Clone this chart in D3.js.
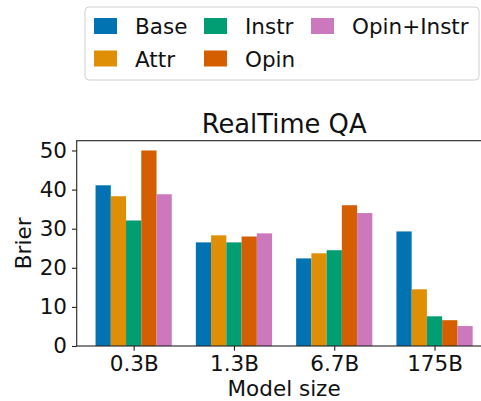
<!DOCTYPE html>
<html>
<head>
<meta charset="utf-8">
<script src="https://cdn.jsdelivr.net/npm/d3@7"></script>
<style>
  body { margin: 0; background: #fff; }
  svg { display: block; font-family: "DejaVu Sans", sans-serif; }
</style>
</head>
<body>
<svg width="481" height="401"></svg>
<script>
// data
var categories = ["0.3B", "1.3B", "6.7B", "175B"];
var seriesNames = ["Base", "Attr", "Instr", "Opin", "Opin+Instr"];
var base      = [41.1, 26.5, 22.4, 29.3];
var attr      = [38.3, 28.3, 23.7, 14.5];
var instr     = [32.1, 26.5, 24.5, 7.6];
var opin      = [50.0, 28.0, 36.0, 6.6];
var opinInstr = [38.8, 28.8, 34.0, 5.1];
var yTicks = [0, 10, 20, 30, 40, 50];
var colors = ["#0173b2", "#de8f05", "#029e73", "#d55e00", "#cc78bc"];

var allSeries = [base, attr, instr, opin, opinInstr];

var svg = d3.select("svg");
// plot box (note: "top" is taken by window.top, so prefixed names)
var plotL = 76.7, plotR = 491.5, plotT = 140.7, plotB = 346;
var barW = 0.152;

var x = d3.scaleLinear().domain([-0.568, 3.568]).range([plotL, plotR]);
var y = d3.scaleLinear().domain([0, 52.5]).range([plotB, plotT]);

// bars
allSeries.forEach(function(vals, j)
{
    svg.append("g")
        .selectAll("rect")
        .data(vals)
        .enter().append("rect")
        .attr("x", function(d, i) { return x(i + (j - 2) * barW - barW / 2); })
        .attr("width", x(barW) - x(0))
        .attr("y", function(d) { return y(d); })
        .attr("height", function(d) { return y(0) - y(d); })
        .attr("fill", colors[j]);
});

// axes
var yAxis = d3.axisLeft(y).tickValues(yTicks).tickSize(4.7).tickPadding(5);
var gy = svg.append("g").attr("transform", "translate(" + plotL + ",0)").call(yAxis);
var xAxis = d3.axisBottom(x).tickValues(d3.range(categories.length))
    .tickFormat(function(d) { return categories[d]; }).tickSize(4.7).tickPadding(5);
var gx = svg.append("g").attr("transform", "translate(0," + plotB + ")").call(xAxis);
[gx, gy].forEach(function(g)
{
    g.select(".domain").remove();
    g.selectAll("line").attr("stroke", "#222").attr("stroke-width", 1.1);
    g.selectAll("text").attr("font-size", 21.5).attr("fill", "#111")
        .attr("font-family", "DejaVu Sans");
});

// spines (right one falls outside the window)
svg.append("rect")
    .attr("x", plotL).attr("y", plotT)
    .attr("width", plotR - plotL).attr("height", plotB - plotT)
    .attr("fill", "none").attr("stroke", "#222").attr("stroke-width", 1.1);

// titles
svg.append("text")
    .attr("x", (plotL + plotR) / 2).attr("y", 133)
    .attr("text-anchor", "middle").attr("font-size", 25.8).attr("fill", "#111")
    .text("RealTime QA");
svg.append("text")
    .attr("x", (plotL + plotR) / 2).attr("y", 396)
    .attr("text-anchor", "middle").attr("font-size", 21.5).attr("fill", "#111")
    .text("Model size");
svg.append("text")
    .attr("transform", "translate(31," + ((plotT + plotB) / 2) + ") rotate(-90)")
    .attr("text-anchor", "middle").attr("font-size", 21.5).attr("fill", "#111")
    .text("Brier");

// legend, column-major, 2 rows
var legend = svg.append("g");
legend.append("rect")
    .attr("x", 85).attr("y", 7).attr("width", 394).attr("height", 73)
    .attr("rx", 4).attr("fill", "#fff").attr("stroke", "#d0d0d0").attr("stroke-width", 1);
var colX = [94, 204, 311];
var rowY = [18, 50.5];
var items = legend.selectAll("g.item")
    .data(seriesNames)
    .enter().append("g")
    .attr("class", "item")
    .attr("transform", function(d, i)
    {
        return "translate(" + colX[Math.floor(i / 2)] + "," + rowY[i % 2] + ")";
    });
items.append("rect")
    .attr("width", 23).attr("height", 16)
    .attr("fill", function(d, i) { return colors[i]; });
items.append("text")
    .attr("x", 41).attr("y", 16)
    .attr("font-size", 21.5).attr("fill", "#111")
    .text(function(d) { return d; });
</script>
</body>
</html>
